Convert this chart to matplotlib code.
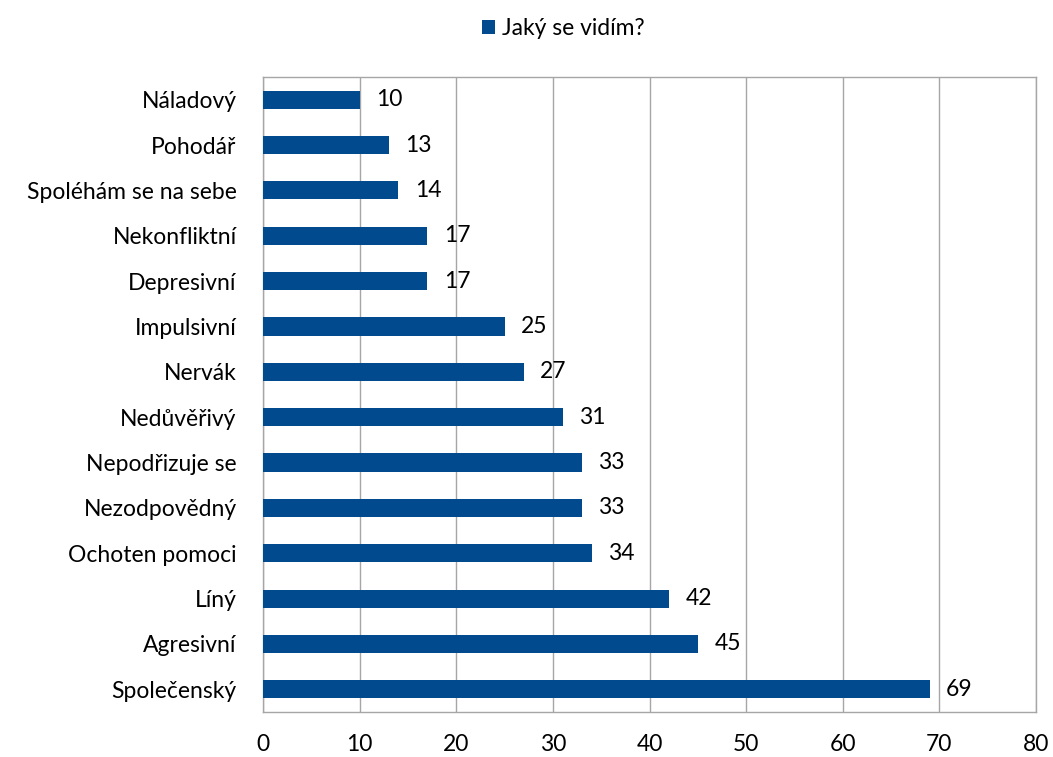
import matplotlib
matplotlib.use("Agg")
import matplotlib.pyplot as plt
from matplotlib.patches import Patch

categories = ["Náladový", "Pohodář", "Spoléhám se na sebe", "Nekonfliktní", "Depresivní",
              "Impulsivní", "Nervák", "Nedůvěřivý", "Nepodřizuje se", "Nezodpovědný",
              "Ochoten pomoci", "Líný", "Agresivní", "Společenský"]
values = [10, 13, 14, 17, 17, 25, 27, 31, 33, 33, 34, 42, 45, 69]
series_name = "Jaký se vidím?"
xticks = [0, 10, 20, 30, 40, 50, 60, 70, 80]

plt.rcParams['font.family'] = ['Lato', 'DejaVu Sans']
bar_color = "#004A8D"
fs = 16.5

fig = plt.figure(figsize=(10.53, 7.57), dpi=100)
ax = fig.add_axes([0.2498, 0.0594, 0.7341, 0.8389])

ypos = list(range(len(categories)))
ax.barh(ypos, values, height=0.4, color=bar_color, zorder=3)
ax.set_ylim(len(categories) - 0.5, -0.5)
ax.set_xlim(0, 80)
ax.set_xticks(xticks)
ax.set_xticklabels([str(x) for x in xticks], fontsize=fs)
ax.set_yticks(ypos)
ax.set_yticklabels(categories, fontsize=fs)
ax.tick_params(axis='both', length=0, colors='black')
ax.tick_params(axis='x', pad=16)
ax.tick_params(axis='y', pad=19)
ax.xaxis.grid(True, color='#A6A6A6', linewidth=1, zorder=0)
for s in ax.spines.values():
    s.set_color('#A6A6A6')
    s.set_linewidth(1)

for y, v in zip(ypos, values):
    ax.text(v + 1.7, y, str(v), va='center', ha='left', fontsize=fs, color='black')

fig.legend(handles=[Patch(facecolor=bar_color, label=series_name)],
           loc='center', bbox_to_anchor=(0.535, 0.962), frameon=False,
           fontsize=fs, handlelength=0.6, handleheight=0.6, handletextpad=0.3)

fig.savefig("out.png", dpi=100)
